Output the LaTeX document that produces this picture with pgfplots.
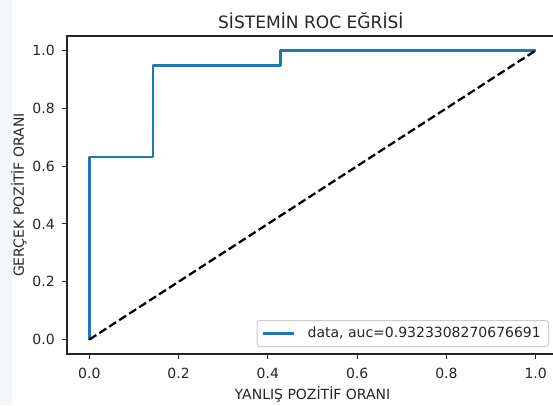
\documentclass[border=0pt]{standalone}
\usepackage{fontspec}
\setmainfont{DejaVu Sans}
\usepackage{pgfplots}
\pgfplotsset{compat=1.18}
\definecolor{mplblue}{HTML}{1F77B4}
\definecolor{leftstrip}{HTML}{F2F7FB}
\begin{document}
\begin{tikzpicture}
\useasboundingbox (0pt,0pt) rectangle (414.75pt,303.75pt);
\clip (0pt,0pt) rectangle (414.75pt,303.75pt);
\fill[white] (0pt,0pt) rectangle (414.75pt,303.75pt);
\fill[leftstrip] (0pt,0pt) rectangle (9pt,303.75pt);
\begin{axis}[
  at={(50.25pt,38.25pt)}, anchor=south west,
  scale only axis, width=368.25pt, height=238.5pt,
  xmin=-0.05, xmax=1.05, ymin=-0.05, ymax=1.05,
  xtick={0,0.2,0.4,0.6,0.8,1.0},
  ytick={0,0.2,0.4,0.6,0.8,1.0},
  tick align=outside, tick pos=left,
  major tick length=3.9pt,
  every tick/.style={black!85, line width=0.85pt},
  axis line style={black!85, line width=0.85pt},
  /pgf/number format/.cd, fixed, fixed zerofill, precision=1, assume math mode=true,
  /pgfplots/.cd,
  tick label style={font=\fontsize{10.5}{12}\selectfont, text=black!85},
  xticklabel style={anchor=base, inner sep=0pt, yshift=-14.1pt},
  yticklabel style={anchor=east, inner sep=0pt, xshift=-5.1pt},
  label style={font=\fontsize{10.5}{12}\selectfont, text=black!85},
  xlabel={YANLIŞ POZİTİF ORANI},
  ylabel={GERÇEK POZİTİF ORANI},
  xlabel style={at={(axis description cs:0.5,-0.1415)}, anchor=base, inner sep=0pt},
  ylabel style={at={(axis description cs:-0.0876,0.5)}, anchor=base, inner sep=0pt},
  title={SİSTEMİN ROC EĞRİSİ},
  every axis title shift=0pt,
  title style={at={(axis description cs:0.4965,1.0243)}, anchor=base, inner sep=0pt, font=\fontsize{12.8}{15}\selectfont, text=black!85},
  legend style={at={(axis description cs:1,0)}, anchor=south east, xshift=-6.75pt, yshift=5.25pt,
    draw=black!20, line width=0.75pt, rounded corners=2pt, fill=white, fill opacity=0.8, text opacity=1,
    inner xsep=3.75pt, inner ysep=5pt, nodes={inner sep=0pt}, font=\fontsize{10.5}{12}\selectfont, text=black!85},
  legend cell align=left,
  legend image code/.code={\draw[#1] (0pt,0pt) -- (23.25pt,0pt);},
]
\addplot[mplblue, line width=1.9pt, line join=round] coordinates {
  (0,0) (0,0.6316) (0.1429,0.6316) (0.1429,0.9474) (0.4286,0.9474) (0.4286,1) (1,1)};
\addlegendentry{\hspace*{9pt}data, auc=0.9323308270676691\hspace*{2pt}}
\addplot[black, line width=1.7pt, dash pattern=on 6.2pt off 2.7pt, forget plot] coordinates {
  (0,0) (1,1)};
\end{axis}
\end{tikzpicture}
\end{document}
